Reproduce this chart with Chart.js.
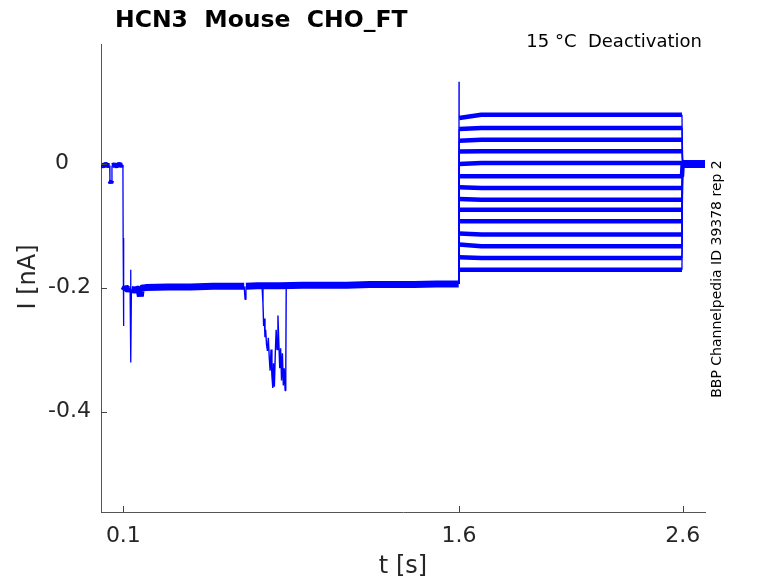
<!DOCTYPE html>
<html>
<head>
<meta charset="utf-8">
<script src="https://cdn.jsdelivr.net/npm/chart.js@4.4.1/dist/chart.umd.min.js"></script>
<style>
  html, body { margin: 0; padding: 0; background: #fff; }
  #plot { display: block; }
</style>
</head>
<body>
<canvas id="plot" width="778" height="583"></canvas>
<script>
// holding + prepulse part, shared by all sweeps (t in s, I in nA)
const holdT = [0, 0.010, 0.020, 0.030, 0.039, 0.040, 0.044, 0.048, 0.049, 0.060, 0.070, 0.080, 0.090, 0.098,
  0.099, 0.1005, 0.102, 0.110, 0.120, 0.130, 0.132, 0.134, 0.136, 0.150, 0.170, 0.176, 0.180, 0.200, 0.300,
  0.400, 0.500, 0.600, 0.640, 0.644, 0.648, 0.700, 0.800, 0.900, 1.000, 1.100, 1.200, 1.300, 1.400, 1.500, 1.599];
const holdI = [-0.002, -0.004, -0.001, -0.003, -0.003, -0.028, -0.031, -0.027, -0.003, -0.002, -0.004, -0.001, -0.003, -0.002,
  -0.120, -0.262, -0.205, -0.200, -0.203, -0.201, -0.171, -0.321, -0.203, -0.204, -0.202, -0.214, -0.201, -0.200, -0.199,
  -0.199, -0.198, -0.198, -0.198, -0.219, -0.198, -0.197, -0.197, -0.196, -0.196, -0.196, -0.195, -0.195, -0.195, -0.194, -0.194];

// noisy excursion in one sweep during the prepulse
const dipT = [0.720, 0.724, 0.727, 0.730, 0.733, 0.736, 0.740, 0.744, 0.748, 0.752, 0.756, 0.760, 0.764, 0.768,
  0.771, 0.775, 0.779, 0.783, 0.787, 0.791, 0.795, 0.799, 0.803, 0.807, 0.811, 0.815, 0.819, 0.823, 0.826, 0.828];
const dipI = [-0.198, -0.225, -0.262, -0.250, -0.280, -0.268, -0.292, -0.302, -0.281, -0.312, -0.334, -0.300, -0.342, -0.362,
  -0.322, -0.360, -0.308, -0.268, -0.300, -0.245, -0.290, -0.330, -0.298, -0.350, -0.306, -0.358, -0.330, -0.366, -0.338, -0.198];

// deactivation test pulses, one level per sweep
const stepT = [1.6, 1.601, 1.7, 2.597, 2.6, 2.7];
const stepStart = [0.0737, 0.0560, 0.0371, 0.0194, -0.0005, -0.0205, -0.0382, -0.0569, -0.0742, -0.0930, -0.1129, -0.1306, -0.1511, -0.1710];
const stepEnd = [0.0790, 0.0576, 0.0387, 0.0198, 0.0011, -0.0205, -0.0392, -0.0581, -0.0742, -0.0930, -0.1145, -0.1334, -0.1521, -0.1710];
const prepulseEnd = -0.194;
const tailI = -0.001;
const capSpike = 0.132;

const xTicks = [0.1, 1.6, 2.6];
const xTickLabels = ["0.1", "1.6", "2.6"];
const yTicks = [0, -0.2, -0.4];
const yTickLabels = ["0", "-0.2", "-0.4"];

const BLUE = "#0000ff";
const FONT = "'DejaVu Sans', 'Liberation Sans', sans-serif";

// steep jumps are drawn thin, the noisy plateaus as a thick band
function bandWidth(ctx, base) {
  const dx = ctx.p1.parsed.x - ctx.p0.parsed.x;
  const dy = Math.abs(ctx.p1.parsed.y - ctx.p0.parsed.y);
  if (dy > 0.02 && dy / Math.max(dx, 1e-6) > 1.5) return 1.3;
  return base;
}

const datasets = [];
datasets.push({
  data: holdT.map((t, i) => ({ x: t, y: holdI[i] })),
  segment: { borderWidth: ctx => bandWidth(ctx, ctx.p0.parsed.x >= 0.1 ? 7 : 5) }
});
datasets.push({
  data: dipT.map((t, i) => ({ x: t, y: dipI[i] })),
  borderWidth: 1.4
});
stepStart.forEach((s, k) => {
  const vals = [prepulseEnd, s, stepEnd[k], stepEnd[k], tailI, tailI];
  const pts = stepT.map((t, i) => ({ x: t, y: vals[i] }));
  if (k === 0) pts.splice(1, 0, { x: 1.6004, y: capSpike });
  datasets.push({
    data: pts,
    segment: { borderWidth: ctx => bandWidth(ctx, ctx.p0.parsed.x >= 2.6 ? 7 : 4.5) }
  });
});
datasets.forEach(d => {
  d.borderColor = BLUE;
  d.pointRadius = 0;
  d.borderJoinStyle = "bevel";
  d.borderCapStyle = "butt";
  if (d.borderWidth === undefined) d.borderWidth = 4;
});

const decor = {
  id: "decor",
  afterDraw(chart) {
    const ctx = chart.ctx;
    const xs = chart.scales.x, ys = chart.scales.y;
    const a = chart.chartArea;
    ctx.save();
    ctx.strokeStyle = "#444";
    ctx.lineWidth = 1;
    ctx.beginPath();
    xTicks.forEach(v => {
      const px = Math.round(xs.getPixelForValue(v)) + 0.5;
      ctx.moveTo(px, a.bottom); ctx.lineTo(px, a.bottom - 6);
    });
    yTicks.forEach(v => {
      const py = Math.round(ys.getPixelForValue(v)) + 0.5;
      ctx.moveTo(a.left, py); ctx.lineTo(a.left + 6, py);
    });
    ctx.stroke();

    ctx.fillStyle = "#262626";
    ctx.font = "22px " + FONT;
    ctx.textBaseline = "middle";
    ctx.textAlign = "center";
    xTicks.forEach((v, i) => ctx.fillText(xTickLabels[i], xs.getPixelForValue(v), a.bottom + 24));
    yTicks.forEach((v, i) => {
      const py = ys.getPixelForValue(v);
      if (v === 0) { ctx.textAlign = "center"; ctx.fillText(yTickLabels[i], 62, py); }
      else { ctx.textAlign = "right"; ctx.fillText(yTickLabels[i], 91, py); }
    });

    ctx.font = "24px " + FONT;
    ctx.textAlign = "center";
    ctx.fillText("t [s]", 403, 567);
    ctx.save();
    ctx.translate(29, 277);
    ctx.rotate(-Math.PI / 2);
    ctx.fillText("I [nA]", 0, 0);
    ctx.restore();

    ctx.fillStyle = "#000";
    ctx.font = "bold 23.5px " + FONT;
    ctx.textAlign = "left";
    ctx.textBaseline = "alphabetic";
    ctx.fillText("HCN3  Mouse  CHO_FT", 115, 27);

    ctx.font = "18px " + FONT;
    ctx.textAlign = "right";
    ctx.fillText("15 °C  Deactivation", 702, 47);

    ctx.font = "14px " + FONT;
    ctx.textAlign = "center";
    ctx.textBaseline = "middle";
    ctx.translate(717, 279);
    ctx.rotate(-Math.PI / 2);
    ctx.fillText("BBP Channelpedia ID 39378 rep 2", 0, 0);
    ctx.restore();
  }
};

new Chart(document.getElementById("plot"), {
  type: "line",
  data: { datasets },
  options: {
    responsive: false,
    animation: false,
    devicePixelRatio: 1,
    layout: { padding: { top: 44, right: 73, left: 0, bottom: 0 } },
    plugins: { legend: { display: false }, tooltip: { enabled: false }, title: { display: false } },
    scales: {
      x: {
        type: "linear", min: 0, max: 2.7,
        ticks: { display: false },
        grid: { display: true, drawOnChartArea: false, drawTicks: false },
        border: { display: true, color: "#555", width: 1 },
        afterFit: s => { s.height = 71; }
      },
      y: {
        type: "linear", min: -0.562, max: 0.193,
        ticks: { display: false },
        grid: { display: true, drawOnChartArea: false, drawTicks: false },
        border: { display: true, color: "#555", width: 1 },
        afterFit: s => { s.width = 101; }
      }
    }
  },
  plugins: [decor]
});
</script>
</body>
</html>
